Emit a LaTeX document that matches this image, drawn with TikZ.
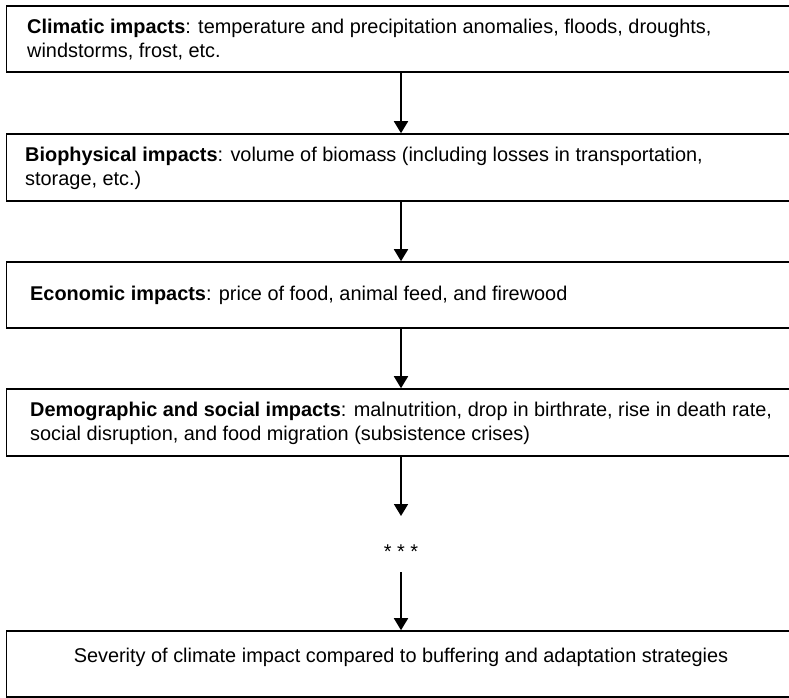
\documentclass[tikz,border=0pt]{standalone}
\usepackage{fontspec}
\setmainfont{Liberation Sans}
\usetikzlibrary{arrows.meta}
\tikzset{
  stage/.style={draw=black, line width=1.6pt, minimum width=789pt, inner sep=0pt},
  label/.style={font=\fontsize{19.9}{24}\selectfont, inner sep=0pt, align=left, anchor=base west},
  flow/.style={line width=1.8pt, -{Triangle[width=14pt,length=12pt]}}
}
\begin{document}
\begin{tikzpicture}[x=1pt,y=-1pt]
  \clip (0,0) rectangle (789,697);
  \fill[white] (0,0) rectangle (789,697);
  % stage boxes
  \node[stage, minimum height=66pt] (b1) at (401,39) {};
  \node[stage, minimum height=67pt] (b2) at (401,167.5) {};
  \node[stage, minimum height=66pt] (b3) at (401,295) {};
  \node[stage, minimum height=67pt] (b4) at (401,422.5) {};
  \node[stage, minimum height=66pt] (b5) at (401,664) {};
  % stage texts (base anchor sits on the last line)
  \node[label] (t1) at (27,57) {\textbf{Climatic impacts}: temperature and precipitation anomalies, floods, droughts,\\windstorms, frost, etc.};
  \node[label] (t2) at (25,185) {\textbf{Biophysical impacts}: volume of biomass (including losses in transportation,\\storage, etc.)};
  \node[label] (t3) at (30,300) {\textbf{Economic impacts}: price of food, animal feed, and firewood};
  \node[label] (t4) at (30,440) {\textbf{Demographic and social impacts}: malnutrition, drop in birthrate, rise in death rate,\\social disruption, and food migration (subsistence crises)};
  \node[label, anchor=base] (t5) at (401,662) {Severity of climate impact compared to buffering and adaptation strategies};
  % ellipsis between the last two stages
  \node[font=\fontsize{19.9}{24}\selectfont, inner sep=0pt, anchor=base] (dots) at (401,558) {* * *};
  \coordinate (gapTop) at (401,516);
  \coordinate (gapBot) at (401,572);
  % arrows
  \draw[flow] (b1.south) -- (b2.north);
  \draw[flow] (b2.south) -- (b3.north);
  \draw[flow] (b3.south) -- (b4.north);
  \draw[flow] (b4.south) -- (gapTop);
  \draw[flow] (gapBot) -- (b5.north);
\end{tikzpicture}
\end{document}
